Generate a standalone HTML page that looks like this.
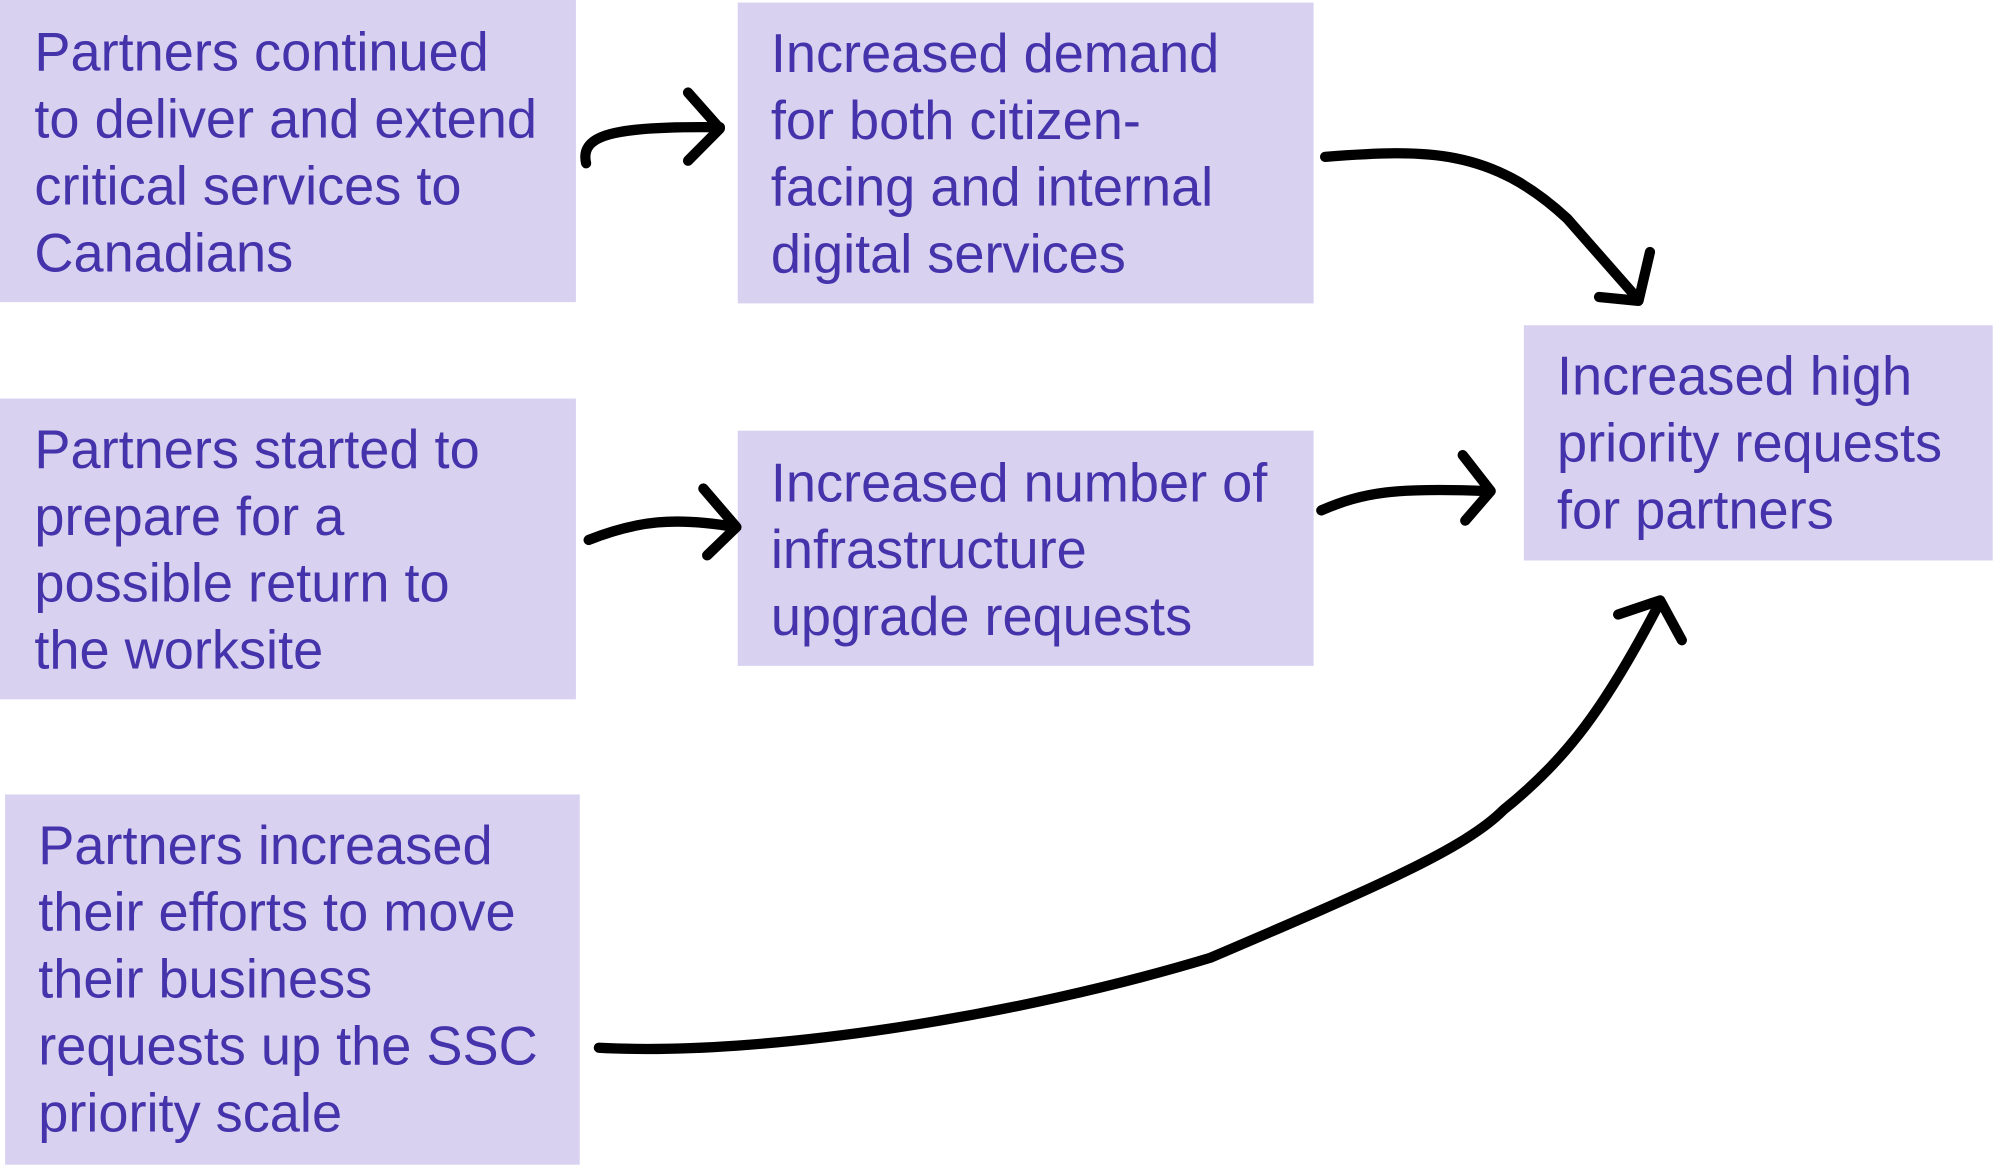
<!DOCTYPE html>
<html><head><meta charset="utf-8"><style>
html,body{margin:0;padding:0;background:#fff;width:1994px;height:1166px;overflow:hidden}
svg{display:block}
text{font-family:"Liberation Sans",Arial,sans-serif;font-size:42.5px;fill:#4433aa}
.a{fill:none;stroke:#000;stroke-width:8;stroke-linecap:round;stroke-linejoin:round}
</style></head><body>
<svg width="1994" height="1166" viewBox="0 0 1565 907" preserveAspectRatio="none">
<g fill="#d8d2f0">
<rect x="0" y="0" width="452" height="235"/>
<rect x="579" y="2" width="452" height="234"/>
<rect x="0" y="310" width="452" height="234"/>
<rect x="579" y="335" width="452" height="183"/>
<rect x="1196" y="253" width="368" height="183"/>
<rect x="4" y="618" width="451" height="288"/>
</g>
<text x="27"><tspan x="27" y="55">Partners continued</tspan><tspan x="27" y="107">to deliver and extend</tspan><tspan x="27" y="159">critical services to</tspan><tspan x="27" y="211">Canadians</tspan></text>
<text><tspan x="605" y="56">Increased demand</tspan><tspan x="605" y="108">for both citizen-</tspan><tspan x="605" y="160">facing and internal</tspan><tspan x="605" y="212">digital services</tspan></text>
<text><tspan x="27" y="364">Partners started to</tspan><tspan x="27" y="416">prepare for a</tspan><tspan x="27" y="468">possible return to</tspan><tspan x="27" y="520">the worksite</tspan></text>
<text><tspan x="605" y="390">Increased number of</tspan><tspan x="605" y="442">infrastructure</tspan><tspan x="605" y="494">upgrade requests</tspan></text>
<text><tspan x="1222" y="307">Increased high</tspan><tspan x="1222" y="359">priority requests</tspan><tspan x="1222" y="411">for partners</tspan></text>
<text><tspan x="30" y="672">Partners increased</tspan><tspan x="30" y="724">their efforts to move</tspan><tspan x="30" y="776">their business</tspan><tspan x="30" y="828">requests up the SSC</tspan><tspan x="30" y="880">priority scale</tspan></text>
<path class="a" d="M460,127 C455,105 480,98 565,99"/>
<path class="a" d="M540,72 L565,100 L540,125"/>
<path class="a" d="M1040,122 C1120,116 1170,115 1230,170 L1285,232"/>
<path class="a" d="M1295,196 L1286,234 L1255,231"/>
<path class="a" d="M462,420 C500,405 530,402 577,410"/>
<path class="a" d="M552,380 L578,410 L555,432"/>
<path class="a" d="M1037,397 C1070,383 1095,379 1168,382"/>
<path class="a" d="M1148,354 L1170,382 L1150,405"/>
<path class="a" d="M470,815 C600,822 800,790 950,745 C1080,690 1150,660 1180,630 C1230,590 1260,550 1302,470"/>
<path class="a" d="M1270,478 L1303,467 L1320,498"/>
</svg>
</body></html>
